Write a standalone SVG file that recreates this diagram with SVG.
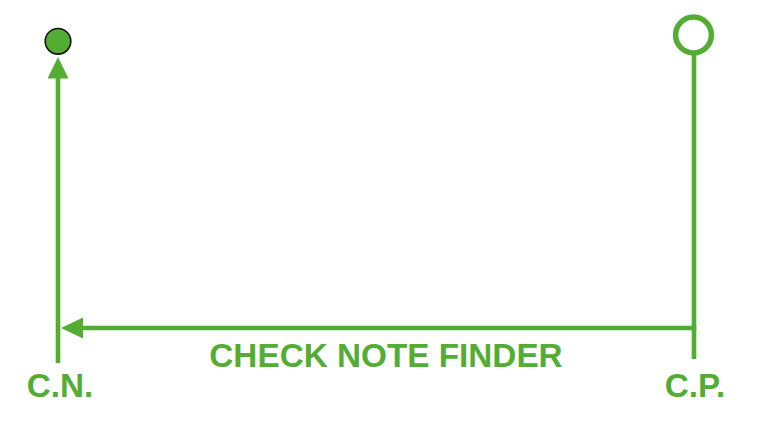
<svg xmlns="http://www.w3.org/2000/svg" width="762" height="432" viewBox="0 0 762 432">
<style>
.ln{stroke:#53ad33;stroke-width:4.6;fill:none}
.ah{fill:#53ad33}
.t{font-family:"Liberation Sans",Arial,sans-serif;font-weight:bold;font-size:33.3px;fill:#53ad33;text-anchor:middle}
</style>
<rect width="762" height="432" fill="#fff"/>
<g id="connectors">
<line class="ln" x1="58" y1="363" x2="58" y2="76"/>
<polygon class="ah" points="58,57 47.5,78.5 68.5,78.5"/>
<line class="ln" x1="694" y1="53" x2="694" y2="359"/>
<line class="ln" x1="696.3" y1="328" x2="80" y2="328"/>
<polygon class="ah" points="61,328 83,317.5 83,338.5"/>
</g>
<g id="node-cn-dot">
<circle cx="58" cy="41.3" r="12.8" fill="#53ad33" stroke="#111" stroke-width="1.6"/>
</g>
<g id="node-cp-ring">
<circle cx="693.5" cy="35" r="17.9" fill="none" stroke="#53ad33" stroke-width="5.5"/>
</g>
<g id="label-main">
<text class="t" x="386" y="366.7">CHECK NOTE FINDER</text>
</g>
<g id="label-cn">
<text class="t" x="60" y="397.2">C.N.</text>
</g>
<g id="label-cp">
<text class="t" x="695" y="397.2">C.P.</text>
</g>
</svg>
